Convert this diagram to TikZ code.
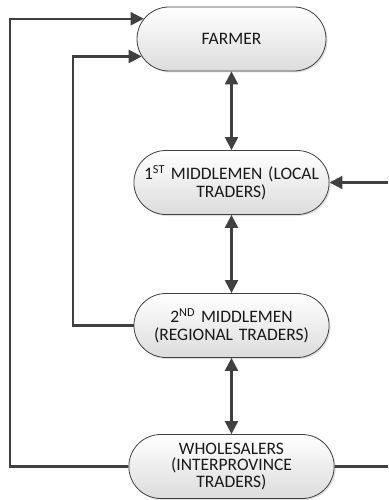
\documentclass[tikz,border=0pt]{standalone}
\usepackage{fontspec}
\setmainfont{Carlito}
\usetikzlibrary{shapes.misc,shadows,arrows.meta}
\definecolor{linec}{HTML}{404040}
\definecolor{fillb}{HTML}{DCDCDC}
\begin{document}
\begin{tikzpicture}[x=1bp,y=-1bp,
  term/.style={rounded rectangle, draw=linec, line width=0.8bp,
    minimum width=189bp, minimum height=64bp, inner sep=0pt,
    top color=white, bottom color=fillb,
    drop shadow={opacity=0.25, shadow xshift=1.5bp, shadow yshift=-1.5bp},
    align=center, text width=185bp,
    font=\fontsize{17.5bp}{18bp}\selectfont, text=black!90},
  conn/.style={draw=linec, line width=2.2bp},
  arr/.style={conn, -{Triangle[length=13bp,width=13bp]}},
  darr/.style={conn, {Triangle[length=13bp,width=13bp]}-{Triangle[length=13bp,width=13bp]}}]
\useasboundingbox (0,0) rectangle (388,500);
\coordinate (L1) at (10,0);
\coordinate (L2) at (73,0);
\coordinate (R) at (388,0);
\node[term] (farmer) at (231.5,39) {FARMER};
\node[term] (m1) at (231.5,182.5) {1\textsuperscript{ST} MIDDLEMEN (LOCAL\\TRADERS)};
\node[term] (m2) at (231.5,325.5) {2\textsuperscript{ND} MIDDLEMEN\\(REGIONAL TRADERS)};
\node[term, font=\fontsize{17.5bp}{16.5bp}\selectfont] (wh) at (231.5,466.5) {WHOLESALERS\\(INTERPROVINCE\\TRADERS)};
\draw[darr] (farmer.south) -- (m1.north);
\draw[darr] (m1.south) -- (m2.north);
\draw[darr] (m2.south) -- (wh.north);
\draw[arr] (wh.west) -- (wh.west -| L1) |- (farmer.167.5);
\draw[arr] (m2.west) -- (m2.west -| L2) |- (farmer.191.5);
\draw[arr] (m1.east -| R) -- (m1.east);
\draw[conn] (wh.east) -- (wh.east -| R);
\end{tikzpicture}
\end{document}
